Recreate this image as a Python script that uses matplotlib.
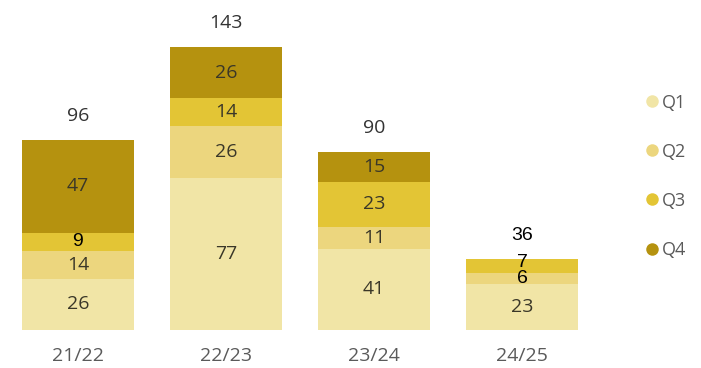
import matplotlib
matplotlib.use("Agg")
import matplotlib.pyplot as plt
from matplotlib.lines import Line2D
import numpy as np

# ---------------------------------------------------------------------------
# Data
# ---------------------------------------------------------------------------
seasons = ["21/22", "22/23", "23/24", "24/25"]
quarters = ["Q1", "Q2", "Q3", "Q4"]
q1 = [26, 77, 41, 23]
q2 = [14, 26, 11, 6]
q3 = [9, 14, 23, 7]
q4 = [47, 26, 15, 0]
totals = [96, 143, 90, 36]

# labels that were typed over the chart in a plain black font
black_labels = {(0, 2), (3, 1), (3, 2)}
black_totals = {3}

colors = ["#F1E5A6", "#ECD67E", "#E3C535", "#B5920F"]
label_color = "#3a3728"
axis_color = "#5a5a5a"
FS = 14

fig = plt.figure(figsize=(7.01, 3.68), dpi=100)
ax = fig.add_axes([0, 38 / 368, 1, 320 / 368])

x = np.arange(len(seasons))
series = [q1, q2, q3, q4]
bottom = np.zeros(len(seasons))
for qi, vals in enumerate(series):
    vals = np.array(vals, dtype=float)
    ax.bar(x, vals, width=0.76, bottom=bottom, color=colors[qi], edgecolor="none")
    for i, v in enumerate(vals):
        if v <= 0:
            continue
        yc = bottom[i] + v / 2
        if (i, qi) in black_labels:
            # the small hand-typed labels sit a touch apart
            dy = 2 if qi == 2 and i == 3 else 0
            ax.annotate(f"{int(v)}", (x[i], yc), xytext=(0, dy),
                        textcoords="offset points", ha="center", va="center",
                        fontsize=FS, color="black", family="Liberation Sans")
        else:
            ax.text(x[i], yc, f"{int(v)}", ha="center", va="center",
                    fontsize=FS, color=label_color, family="Open Sans")
    bottom += vals

for i, t in enumerate(totals):
    black = i in black_totals
    ax.annotate(f"{t}", (x[i], t), xytext=(0, 17), textcoords="offset points",
                ha="center", va="center", fontsize=FS,
                color="black" if black else "#333333",
                family="Liberation Sans" if black else "Open Sans")

ax.set_xlim(-78 / 148, (701 - 78) / 148)
ax.set_ylim(0, 320 / 1.98)
ax.set_xticks(x)
ax.set_xticklabels(seasons, family="Open Sans", fontsize=FS, color=axis_color)
ax.tick_params(axis="x", length=0, pad=12)
ax.set_yticks([])
for s in ax.spines.values():
    s.set_visible(False)

handles = [Line2D([0], [0], marker="o", linestyle="none", markersize=9,
                  markerfacecolor=c, markeredgecolor="none") for c in colors]
leg = ax.legend(handles, quarters, loc="upper left", bbox_to_anchor=(0.899, 0.778),
                frameon=False, handletextpad=0.05, labelspacing=1.72,
                handlelength=1.0, borderaxespad=0.3,
                prop={"family": "Open Sans", "size": 13})
for t in leg.get_texts():
    t.set_color(axis_color)

fig.savefig("out.png", dpi=100)
